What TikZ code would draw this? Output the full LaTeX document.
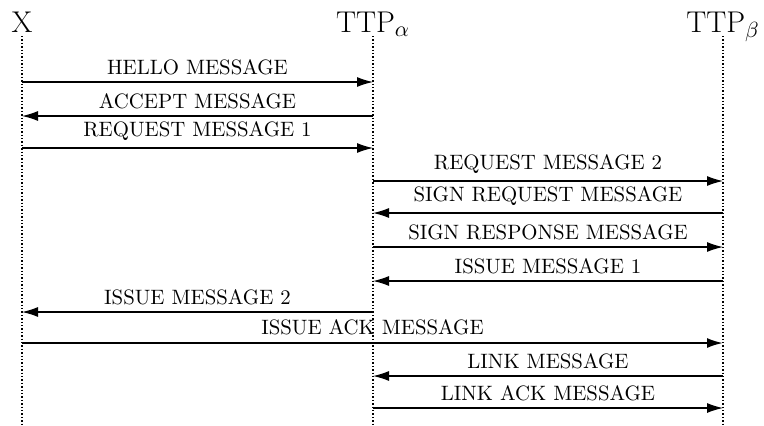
\documentclass[tikz,border=0pt]{standalone}
\usetikzlibrary{arrows.meta,positioning}
\begin{document}
\begin{tikzpicture}[x=0.5pt,y=-0.5pt]
	\tikzstyle{every node}=[font=\fontsize{10.4pt}{12pt}\selectfont]
	\tikzstyle{head}=[font=\fontsize{15pt}{18pt}\selectfont, anchor=base]
	\tikzstyle{lifeline}=[line width=0.7pt, densely dotted]
	\tikzstyle{msg}=[line width=0.6pt, -{Latex[length=8pt,width=5pt]}]
	\useasboundingbox (0,0) rectangle (764,425);
	% parties
	\node [head] (X) at (22,32) {X};
	\node [head] (TTPa) at (373,32) {TTP$_\alpha$};
	\node [head] (TTPb) at (723,32) {TTP$_\beta$};
	\coordinate (lx) at (22,36);
	\coordinate (la) at (373,36);
	\coordinate (lb) at (723,36);
	\draw [lifeline] (lx) -- (lx |- 0,425);
	\draw [lifeline] (la) -- (la |- 0,425);
	\draw [lifeline] (lb) -- (lb |- 0,425);
	% messages
	\draw [msg] (lx |- 0,82) -- (la |- 0,82) node [midway, above] {HELLO MESSAGE};
	\draw [msg] (la |- 0,116) -- (lx |- 0,116) node [midway, above] {ACCEPT MESSAGE};
	\draw [msg] (lx |- 0,148) -- (la |- 0,148) node [midway, above] {REQUEST MESSAGE 1};
	\draw [msg] (la |- 0,181) -- (lb |- 0,181) node [midway, above] {REQUEST MESSAGE 2};
	\draw [msg] (lb |- 0,213) -- (la |- 0,213) node [midway, above] {SIGN REQUEST MESSAGE};
	\draw [msg] (la |- 0,247) -- (lb |- 0,247) node [midway, above] {SIGN RESPONSE MESSAGE};
	\draw [msg] (lb |- 0,281) -- (la |- 0,281) node [midway, above] {ISSUE MESSAGE 1};
	\draw [msg] (la |- 0,312) -- (lx |- 0,312) node [midway, above] {ISSUE MESSAGE 2};
	\draw [msg, line width=1pt] (lx |- 0,343) -- (lb |- 0,343) node [midway, above] {ISSUE ACK MESSAGE};
	\draw [msg] (lb |- 0,376) -- (la |- 0,376) node [midway, above] {LINK MESSAGE};
	\draw [msg] (la |- 0,408) -- (lb |- 0,408) node [midway, above] {LINK ACK MESSAGE};
\end{tikzpicture}
\end{document}
